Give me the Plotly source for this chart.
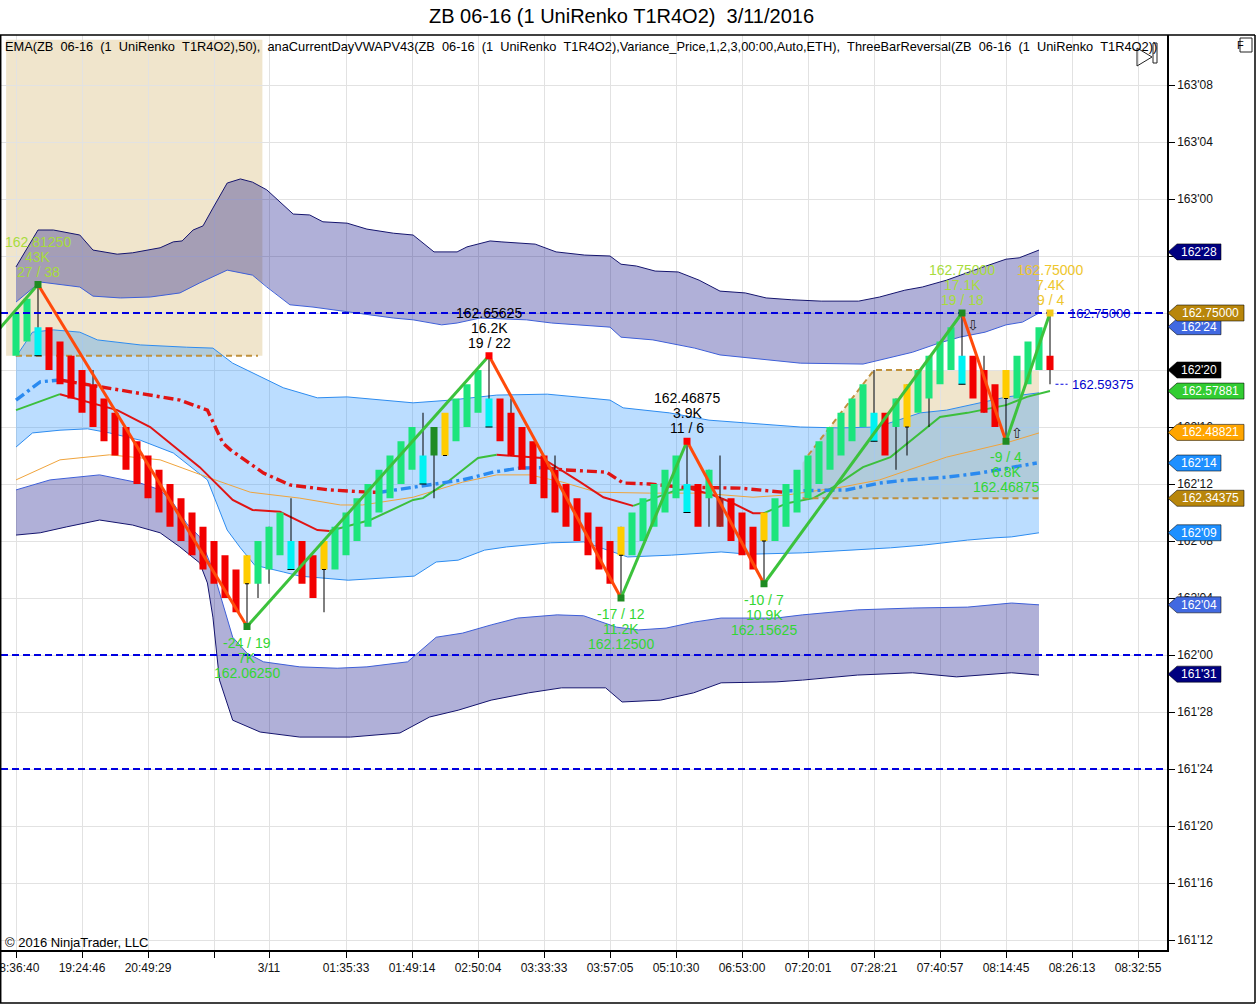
import plotly.graph_objects as go

# ---------------------------------------------------------------- data
BASE = 162.0            # 162'00
TICK = 1.0 / 32         # one 32nd of a point

# UniRenko bars: colour code, body low / high and wicks in 32nds above 162'00
bar_index = list(range(95))
bar_colour = list("GGC" "RRRRRRRRRRRRRRRRRR" "Y" "GGG" "C" "RR" "Y" "GGGGGGGG" "C" "D" "Y"
                  "GGG" "C" "RRRRRRRRRRR" "Y" "GGGGG" "C" "R" "G" "B" "RRR" "Y" "GGGGGGGGG"
                  "C" "R" "G" "Y" "GGGG" "C" "RRR" "Y" "GGG" "R")
body_lo32 = [21, 22, 21, 20, 19, 18, 17, 16, 15, 14, 13, 12, 11, 10, 9, 8, 7, 6, 5, 4,
             3, 5, 5, 6, 7, 6, 5, 4, 6, 6, 7, 8, 9, 10, 11, 12, 13, 12, 14, 14,
             15, 16, 17, 16, 15, 14, 13, 12, 11, 10, 9, 8, 7, 6, 5, 7, 7, 8, 9, 10,
             11, 10, 9, 11, 9, 8, 7, 6, 8, 8, 9, 10, 11, 12, 13, 14, 15, 16, 15, 14,
             16, 16, 17, 18, 19, 20, 19, 18, 17, 16, 18, 18, 19, 20, 20]
body_hi32 = [24, 25, 23, 23, 22, 21, 20, 19, 18, 17, 16, 15, 14, 13, 12, 11, 10, 9, 8, 7,
             6, 7, 8, 9, 10, 8, 8, 7, 8, 9, 10, 11, 12, 13, 14, 15, 16, 14, 16, 17,
             18, 19, 20, 18, 18, 17, 16, 15, 14, 13, 12, 11, 10, 9, 8, 9, 10, 11, 12, 13,
             14, 12, 12, 13, 11, 11, 10, 9, 10, 11, 12, 13, 14, 15, 16, 17, 18, 19, 17, 17,
             18, 19, 20, 21, 22, 23, 21, 21, 20, 19, 20, 21, 22, 23, 21]
wick_low_at = [21, 22, 23, 28, 38, 55, 63, 68, 80, 81, 83, 90, 94]
wick_low32 = [2, 4, 5, 3, 11, 4, 9, 5, 13, 14, 16, 15, 19]
wick_high_at = [2, 7, 25, 37, 43, 45, 49, 61, 64, 78, 86, 88, 94]
wick_high32 = [26, 20, 11, 17, 21, 18, 14, 15, 14, 20, 24, 21, 24]

# VWAP standard deviation bands (bar index, price)
u3_x = [0, 2, 3.4, 5.8, 7, 9.2, 10.6, 12.2, 13.1, 14.3, 15.1, 16.1, 17, 17.9, 19.2, 20.4, 21.5, 22.8,
        24, 25.2, 26.7, 27.9, 30.1, 31.9, 34.3, 36.1, 38, 40.1, 41, 43.1, 44.1, 45.1, 47.2, 49.1,
        51.7, 54, 55, 56.4, 58.1, 60.2, 62.1, 64, 66.3, 68.2, 70.5, 73.2, 76.6, 78.5, 80.8, 82.4,
        84.6, 87.7, 90, 91.2, 93]
u3_y = [162.851, 162.932, 162.932, 162.921, 162.888, 162.879, 162.882, 162.890, 162.893, 162.906,
        162.908, 162.932, 162.941, 162.980, 163.035, 163.044, 163.037, 163.020, 162.993, 162.967,
        162.965, 162.950, 162.947, 162.934, 162.925, 162.921, 162.884, 162.884, 162.895, 162.908,
        162.906, 162.904, 162.901, 162.884, 162.877, 162.875, 162.857, 162.853, 162.842, 162.840,
        162.822, 162.798, 162.794, 162.783, 162.779, 162.776, 162.776, 162.785, 162.800, 162.807,
        162.822, 162.849, 162.868, 162.871, 162.888]
u2_x = [0, 2.2, 5.8, 7, 9.5, 12.2, 14.9, 16.7, 19.2, 21.5, 22.8, 24.9, 27, 28.8, 31.9, 34.3, 36.1,
        38.7, 40.1, 42.2, 46.4, 48.7, 54, 55, 57.9, 61.7, 64, 65.5, 68.5, 71.3, 77, 78.9, 81.5,
        83.9, 85.8, 88.1, 90, 91.5, 93]
u2_y = [162.774, 162.818, 162.807, 162.787, 162.783, 162.785, 162.794, 162.816, 162.844, 162.833,
        162.807, 162.768, 162.763, 162.757, 162.746, 162.739, 162.735, 162.724, 162.728, 162.739,
        162.735, 162.728, 162.719, 162.697, 162.691, 162.673, 162.658, 162.654, 162.647, 162.640,
        162.638, 162.649, 162.664, 162.684, 162.697, 162.708, 162.724, 162.730, 162.750]
u1_x = [0, 1.5, 3.4, 5.8, 7.4, 11.3, 15.5, 17.9, 19.7, 22.2, 24.3, 27.4, 30.1, 36.1, 39.5, 43.7,
        48.3, 54, 55.2, 59.4, 63, 71.3, 74.9, 78.3, 82.2, 84.6, 90.1, 93]
u1_y = [162.654, 162.708, 162.713, 162.708, 162.691, 162.680, 162.675, 162.673, 162.640, 162.610,
        162.586, 162.564, 162.566, 162.553, 162.559, 162.570, 162.572, 162.559, 162.542, 162.531,
        162.515, 162.500, 162.498, 162.500, 162.531, 162.537, 162.566, 162.575]
l1_x = [0, 1.5, 4, 6.5, 8.5, 11.3, 14.3, 16.3, 17.4, 18.3, 19.2, 20.4, 21.7, 24.3, 25.8, 30.2, 36.2,
        38.2, 40.2, 42.6, 44.6, 48.6, 51.6, 55.6, 59.6, 64.1, 66.6, 71.5, 76.5, 79.5, 82.5, 86.5,
        89, 90.5, 93]
l1_y = [162.456, 162.487, 162.493, 162.496, 162.487, 162.471, 162.443, 162.406, 162.384, 162.329,
        162.274, 162.235, 162.197, 162.182, 162.173, 162.164, 162.173, 162.204, 162.208, 162.230,
        162.237, 162.246, 162.248, 162.215, 162.219, 162.226, 162.221, 162.224, 162.230, 162.235,
        162.241, 162.252, 162.257, 162.259, 162.268]
l2_x = [0, 3.1, 7.6, 11.3, 13.1, 14.3, 15.5, 16.7, 17.9, 18.8, 19.7, 21, 22.5, 25.8, 29.2, 31.9,
        34.3, 35.6, 38.2, 40.6, 43.2, 45.6, 49.2, 51.6, 54.6, 56.6, 59.1, 61.6, 64.1, 69.1, 71.5,
        76.5, 81.5, 86.5, 90.5, 93]
l2_y = [162.362, 162.384, 162.395, 162.377, 162.362, 162.333, 162.289, 162.259, 162.186, 162.114,
        162.039, 162.004, 161.985, 161.974, 161.971, 161.974, 161.982, 161.985, 162.039, 162.048,
        162.066, 162.081, 162.088, 162.086, 162.061, 162.055, 162.059, 162.072, 162.081, 162.081,
        162.088, 162.099, 162.103, 162.105, 162.114, 162.110]
l3_x = [0, 2.2, 4.6, 7.6, 10.6, 13.1, 14.9, 16.7, 17.4, 17.9, 18.5, 19.7, 22.2, 25.8, 30.4, 34.9,
        37.6, 40.2, 43.2, 46.6, 49.6, 53.6, 55.1, 58.6, 61.6, 64.1, 69.1, 71.5, 76.5, 81.5, 85.5,
        90.5, 93]
l3_y = [162.263, 162.268, 162.281, 162.296, 162.285, 162.268, 162.237, 162.202, 162.158, 162.083,
        161.945, 161.857, 161.831, 161.820, 161.820, 161.829, 161.864, 161.879, 161.901, 161.917,
        161.928, 161.928, 161.897, 161.901, 161.917, 161.939, 161.941, 161.945, 161.956, 161.961,
        161.952, 161.961, 161.956]

# thin orange average
or_x = [0, 4, 8.5, 13.1, 17.4, 21.3, 25.8, 29.5, 31.5, 36.1, 40.6, 43.7, 46.7, 49.7, 52.8, 57.6,
        62.2, 67, 70.1, 75, 78.5, 84.6, 90, 93]
or_y = [162.384, 162.428, 162.439, 162.428, 162.390, 162.357, 162.344, 162.329, 162.329, 162.346,
        162.379, 162.395, 162.395, 162.379, 162.357, 162.355, 162.355, 162.346, 162.351, 162.368,
        162.384, 162.434, 162.465, 162.487]

# EMA(50), coloured by slope
ema_x = [0, 4, 9.2, 12.2, 16.7, 19.7, 21.5, 24, 27.4, 28.5, 32.2, 36.1, 37, 39.2, 42, 43.7, 47.8,
         51.3, 53.4, 56.1, 60.1, 61.3, 63.1, 64.9, 67, 68, 70.1, 72.5, 74.3, 77, 79.5, 84, 86.5,
         90, 91.9, 94]
ema_y = [162.537, 162.572, 162.537, 162.500, 162.412, 162.340, 162.318, 162.314, 162.274, 162.272,
         162.296, 162.340, 162.344, 162.379, 162.432, 162.439, 162.432, 162.379, 162.346, 162.327,
         162.362, 162.364, 162.353, 162.336, 162.311, 162.311, 162.333, 162.344, 162.368, 162.412,
         162.434, 162.522, 162.531, 162.548, 162.566, 162.57881]

# current day VWAP, coloured by slope
vw_x = [0, 2.2, 4, 7.6, 14.9, 17.4, 18.8, 19.5, 22.5, 24.9, 28.5, 32.2, 33.1, 36.1, 40.6, 43.4,
        45.8, 48.1, 49.7, 53.7, 55.2, 57.6, 60.6, 65.8, 69.7, 70.1, 75.5, 78.5, 81, 84.6, 87.6,
        90.6, 92.8]
vw_y = [162.559, 162.599, 162.603, 162.588, 162.559, 162.537, 162.465, 162.450, 162.399, 162.373,
        162.362, 162.357, 162.357, 162.368, 162.384, 162.401, 162.410, 162.411, 162.406, 162.401,
        162.377, 162.375, 162.368, 162.366, 162.357, 162.360, 162.362, 162.377, 162.384, 162.390,
        162.399, 162.412, 162.421]

# swing (zig-zag) pivots
zz_x = [-1.5, 2, 21, 43, 55, 61, 68, 86, 90, 94]
zz_y32 = [22.9, 26, 2, 21, 4, 15, 5, 24, 15, 24]
piv_vol = ["43K", "7K", "16.2K", "11.2K", "3.9K", "10.9K", "17.1K", "6.8K", "7.4K"]
piv_count = ["27 / 38", "-24 / 19", "19 / 22", "-17 / 12", "11 / 6", "-10 / 7", "19 / 18",
             "-9 / 4", "9 / 4"]
piv_text_col = ["#A8DC3C", "#33D633", "#000000", "#33D633", "#000000", "#33D633", "#A8DC3C",
                "#33D633", "#EEC62C"]
piv_dot_col = ["#1E8B22", "#1E8B22", "#FF0000", "#1E8B22", "#FF0000", "#1E8B22", "#1E8B22",
               "#1E8B22", "#F2C81C"]

# horizontal levels
blue_levels = [162.75, 162.0, 161.75]
trigger_level = 162.59375
range_low = 162.34375

# right axis price markers
mk_text = ["162'24", "162'28", "162.75000", "162'20", "162.57881", "162.48821", "162'14",
           "162.34375", "162'09", "162'04", "161'31"]
mk_price = [162.720, 162.884, 162.75, 162.625, 162.57881, 162.48821, 162.421, 162.34375,
            162.268, 162.110, 161.958]
mk_fill = ["#4169E1", "#000080", "#B8860B", "#000000", "#32CD32", "#FFA500", "#1E90FF",
           "#B8860B", "#1E90FF", "#4169E1", "#000080"]

# x axis labels
x_tick_at = [0, 6, 12, 18, 23, 30, 36, 42, 48, 54, 60, 66, 72, 78, 84, 90, 96, 102]
x_tick_text = ["18:36:40", "19:24:46", "20:49:29", "", "3/11", "01:35:33", "01:49:14", "02:50:04",
               "03:33:33", "03:57:05", "05:10:30", "06:53:00", "07:20:01", "07:28:21", "07:40:57",
               "08:14:45", "08:26:13", "08:32:55"]

# ---------------------------------------------------------------- layout constants
W, H = 1257, 1006
ML, MR, MT, MB = 1, 90, 35, 56
YMIN, YMAX = 161.35307, 163.35965
XMIN, XMAX = -1.364, 104.636
FONT = "Liberation Sans, Arial, sans-serif"

COL = {"G": "#1CE57C", "R": "#F20000", "C": "#00F2F2", "Y": "#FFCC00", "D": "#1F8B24", "B": "#B02222"}


def px_x(px):
    return (px - ML) / (W - ML - MR)


def px_y(py):
    return (H - MB - py) / (H - MT - MB)


def price_y(p):
    return (p - YMIN) / (YMAX - YMIN)


def p32(v):
    return BASE + v * TICK


fig = go.Figure()


def band(xu, yu, xl, yl, color):
    fig.add_trace(go.Scatter(x=list(xu) + list(xl)[::-1], y=list(yu) + list(yl)[::-1],
                             fill="toself", fillcolor=color, mode="lines",
                             line=dict(width=0), hoverinfo="skip"))


def line(xs, ys, color, width, dash=None):
    fig.add_trace(go.Scatter(x=xs, y=ys, mode="lines", hoverinfo="skip",
                             line=dict(color=color, width=width, dash=dash)))


def slope_line(xs, ys, up_col, dn_col, width, dash=None):
    runs = []
    for k in range(len(xs) - 1):
        c = up_col if ys[k + 1] > ys[k] else dn_col
        if runs and runs[-1][0] == c:
            runs[-1][1].append(k + 1)
        else:
            runs.append([c, [k, k + 1]])
    for c, idx in runs:
        line([xs[i] for i in idx], [ys[i] for i in idx], c, width, dash)


# tan range boxes
TAN = "rgba(215,185,120,0.375)"
shapes = []
shapes.append(dict(type="rect", xref="x", yref="y", x0=-0.9, x1=22.4, y0=p32(21), y1=163.349,
                   fillcolor=TAN, line=dict(width=0), layer="below"))
tan2_x = [71.5, 71.5, 78, 93, 93]
tan2_y32 = [11, 13.5, 20, 20, 11]
path = "M " + " L ".join(f"{x},{p32(y)}" for x, y in zip(tan2_x, tan2_y32)) + " Z"
shapes.append(dict(type="path", xref="x", yref="y", path=path,
                   fillcolor=TAN, line=dict(width=0), layer="below"))

# bands
band(u3_x, u3_y, u2_x, u2_y, "rgba(0,0,128,0.31)")
band(l2_x, l2_y, l3_x, l3_y, "rgba(0,0,128,0.31)")
band(u1_x, u1_y, l1_x, l1_y, "rgba(30,144,255,0.30)")
line(u3_x, u3_y, "#14146E", 1)
line(u2_x, u2_y, "#3E5FD8", 1)
line(u1_x, u1_y, "#2D8CF0", 1)
line(l1_x, l1_y, "#2D8CF0", 1)
line(l2_x, l2_y, "#3E5FD8", 1)
line(l3_x, l3_y, "#14146E", 1)

line(or_x, or_y, "#F0A43C", 1)
slope_line(ema_x, ema_y, "#3CBF3C", "#E01414", 2)
slope_line(vw_x, vw_y, "#2A8AF0", "#E01414", 3.4, "10px,4px,3px,4px")

# brown dashed range lines
line([0, 22], [p32(21), p32(21)], "#C0913C", 2, "6px,4px")
line([72, 78, 82.2], [p32(14), p32(20), p32(20)], "#C0913C", 2, "6px,4px")
line([71.5, 93], [range_low, range_low], "#C0913C", 2, "6px,4px")

# wicks
wx, wy = [], []
lo_map = dict(zip(wick_low_at, wick_low32))
hi_map = dict(zip(wick_high_at, wick_high32))
for i in bar_index:
    if i in lo_map or i in hi_map:
        lo = lo_map.get(i, body_lo32[i])
        hi = hi_map.get(i, body_hi32[i])
        wx += [i, i, None]
        wy += [p32(lo), p32(hi), None]
line(wx, wy, "#000000", 1)

# bodies (filled rectangles per colour, drawn as scatter so they sit above the bands)
HALF = 0.32
for code, colour in COL.items():
    bx, by = [], []
    for i, c in enumerate(bar_colour):
        if c != code:
            continue
        lo, hi = p32(body_lo32[i]), p32(body_hi32[i])
        bx += [i - HALF, i + HALF, i + HALF, i - HALF, i - HALF, None]
        by += [lo, lo, hi, hi, lo, None]
    if bx:
        fig.add_trace(go.Scatter(x=bx, y=by, mode="lines", fill="toself", fillcolor=colour,
                                 line=dict(width=0, color=colour), hoverinfo="skip"))

# open markers on reversal / neutral bars
mx, my = [], []
for i, c in enumerate(bar_colour):
    if c in ("C", "Y"):
        half = 0.32 if c == "C" else 0.18
        mx += [i - half, i + half, None]
        my += [p32(body_lo32[i]), p32(body_lo32[i]), None]
line(mx, my, "#000000", 1)

# blue dashed levels
for lv in blue_levels:
    line([XMIN - 2, XMAX + 2], [lv, lv], "#0000E0", 2, "7px,4px")
line([94.5, 95.6], [trigger_level, trigger_level], "#0000E0", 1, "3px,2px")

# zig-zag
zz_y = [p32(v) for v in zz_y32]
slope_line(zz_x, zz_y, "#3CC23C", "#FF4A0A", 3)
fig.add_trace(go.Scatter(x=zz_x[1:], y=zz_y[1:], mode="markers", hoverinfo="skip",
                         marker=dict(symbol="square", size=7, color=piv_dot_col,
                                     line=dict(width=0))))

annotations = []


def ann(**kw):
    base = dict(showarrow=False, yanchor="middle", font=dict(family=FONT, size=12, color="#000000"))
    base.update(kw)
    annotations.append(base)


# pivot labels
for k in range(9):
    x = zz_x[k + 1]
    y = zz_y[k + 1]
    up = zz_y32[k + 1] > zz_y32[k]
    ptxt = f"{y:.5f}"
    f = dict(family=FONT, size=14, color=piv_text_col[k])
    if up:
        rows = [(ptxt, 43), (piv_vol[k], 28), (piv_count[k], 13)]
    else:
        rows = [(piv_count[k], -16), (piv_vol[k], -31), (ptxt, -46)]
    for t, s in rows:
        ann(x=x, y=y, xref="x", yref="y", text=t, yshift=s, xanchor="center", font=f)

# reversal arrows
ann(x=87, y=162.724, xref="x", yref="y", text="⇩", font=dict(family="DejaVu Sans", size=14, color="#222"))
ann(x=91, y=162.487, xref="x", yref="y", text="⇧", font=dict(family="DejaVu Sans", size=14, color="#222"))

# level texts
ann(x=98.5, y=162.75, xref="x", yref="y", text="162.75000", xanchor="center",
    font=dict(family=FONT, size=13, color="#0000CD"))
ann(x=95.8, y=trigger_level, xref="x", yref="y", text="162.59375", xanchor="left",
    font=dict(family=FONT, size=13, color="#0000CD"))

# right axis price markers
hh = 8
for t, p, c in zip(mk_text, mk_price, mk_fill):
    right = 1244 if "." in t else 1221
    yc = price_y(p)
    dy = hh / (H - MT - MB)
    pts = [(px_x(1168), yc), (px_x(1177), yc + dy), (px_x(right), yc + dy),
           (px_x(right), yc - dy), (px_x(1177), yc - dy)]
    shapes.append(dict(type="path", xref="paper", yref="paper", layer="above",
                       path="M " + " L ".join(f"{a},{b}" for a, b in pts) + " Z",
                       fillcolor=c, line=dict(color="rgba(0,0,0,0.55)", width=1)))
    ann(x=px_x((1177 + right) / 2), y=p, xref="paper", yref="y", text=t, xanchor="center",
        font=dict(family=FONT, size=12, color="#FFFFFF"))

# frame
frame = "#000000"
shapes += [
    dict(type="line", xref="paper", yref="paper", x0=px_x(0), x1=px_x(1255), y0=1, y1=1,
         line=dict(color=frame, width=1.5)),
    dict(type="line", xref="paper", yref="paper", x0=px_x(1255), x1=px_x(1255), y0=1,
         y1=px_y(1003), line=dict(color=frame, width=1.5)),
    dict(type="line", xref="paper", yref="paper", x0=px_x(0), x1=px_x(1255), y0=px_y(1003),
         y1=px_y(1003), line=dict(color=frame, width=1.5)),
    dict(type="line", xref="paper", yref="paper", x0=px_x(0.7), x1=px_x(0.7), y0=1,
         y1=px_y(1003), line=dict(color=frame, width=1.5)),
    # play icon + F box
    dict(type="path", xref="paper", yref="paper",
         path=f"M {px_x(1137)},{px_y(48)} L {px_x(1152)},{px_y(57)} L {px_x(1137)},{px_y(66)} Z",
         line=dict(color="#222", width=1), fillcolor="rgba(0,0,0,0)"),
    dict(type="rect", xref="paper", yref="paper", x0=px_x(1153), x1=px_x(1157), y0=px_y(43),
         y1=px_y(63), line=dict(color="#222", width=1)),
    dict(type="rect", xref="paper", yref="paper", x0=px_x(1240), x1=px_x(1252), y0=px_y(38),
         y1=px_y(52), line=dict(color="#222", width=1)),
]
ann(x=px_x(1246), y=px_y(45), xref="paper", yref="paper", text="F",
    font=dict(family=FONT, size=11, color="#000"))

# texts
NB = "\u00a0"
ann(x=px_x(621), y=px_y(16), xref="paper", yref="paper",
    text=f"ZB 06-16 (1 UniRenko T1R4O2){NB}{NB}3/11/2016", font=dict(family=FONT, size=20, color="#000"))
hdr = ("EMA(ZB  06-16  (1  UniRenko  T1R4O2),50),  anaCurrentDayVWAPV43(ZB  06-16  (1  UniRenko  "
       "T1R4O2),Variance_Price,1,2,3,00:00,Auto,ETH),  ThreeBarReversal(ZB  06-16  (1  UniRenko  T1R4O2))")
ann(x=px_x(3), y=px_y(47), xref="paper", yref="paper", text=hdr.replace("  ", " " + NB),
    xanchor="left", font=dict(family=FONT, size=12.8, color="#000"))
ann(x=px_x(3), y=px_y(942), xref="paper", yref="paper", text="© 2016 NinjaTrader, LLC",
    xanchor="left", font=dict(family=FONT, size=13, color="#000"))

# y ticks every 4/32 (labels fully covered by the price markers are left blank)
hidden_ticks = ["162'20", "162'24"]
y_tick_vals = [BASE + k * 4 * TICK for k in range(-5, 11)]
y_tick_text = []
for v in y_tick_vals:
    whole = int(v // 1)
    n = int(round((v - whole) * 32))
    s = f"{whole}'{n:02d}"
    y_tick_text.append("" if s in hidden_ticks else s)

fig.update_layout(
    width=W, height=H, margin=dict(l=ML, r=MR, t=MT, b=MB, pad=0, autoexpand=False),
    paper_bgcolor="#FFFFFF", plot_bgcolor="#FFFFFF", showlegend=False,
    shapes=shapes, annotations=annotations,
    font=dict(family=FONT, size=12, color="#111"),
    xaxis=dict(range=[XMIN, XMAX], tickvals=x_tick_at, ticktext=x_tick_text, showgrid=True,
               gridcolor="#E2E2E2", gridwidth=1, zeroline=False, showline=True,
               linecolor="#000", linewidth=1.5, ticks="outside", ticklen=6, tickcolor="#000",
               ticklabeloverflow="allow", automargin=False,
               tickfont=dict(family=FONT, size=12, color="#111")),
    yaxis=dict(range=[YMIN, YMAX], side="right", tickvals=y_tick_vals, ticktext=y_tick_text,
               showgrid=True, gridcolor="#E2E2E2", gridwidth=1, zeroline=False, showline=True,
               linecolor="#000", linewidth=1.5, ticks="outside", ticklen=6, tickcolor="#000",
               ticklabeloverflow="allow", automargin=False,
               tickfont=dict(family=FONT, size=12, color="#111")),
)

fig.write_html("out.html", config={"displayModeBar": False},
               post_script="document.body.style.margin='0px';")
